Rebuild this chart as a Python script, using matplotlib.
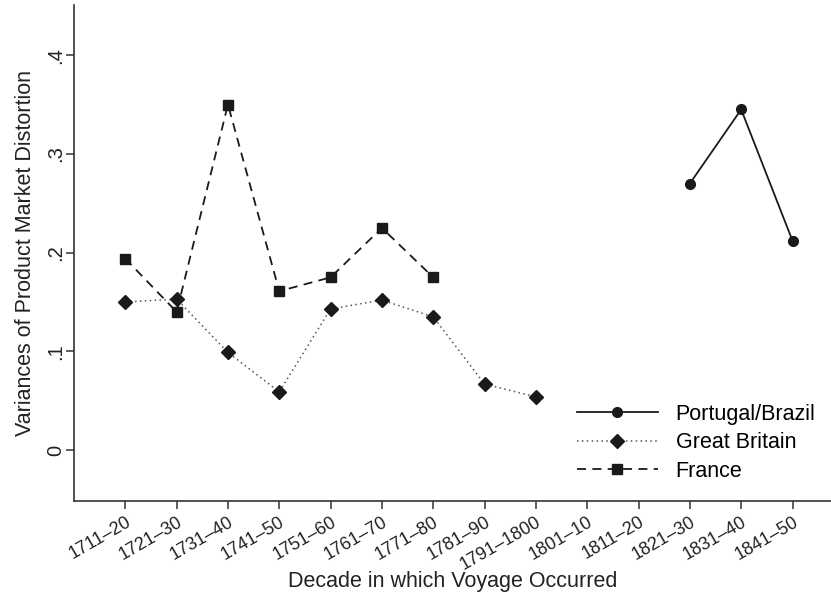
import matplotlib
matplotlib.use("Agg")
import matplotlib.pyplot as plt
import numpy as np

plt.rcParams['font.family'] = ['Liberation Sans', 'DejaVu Sans']

# decades on the x axis
decades = ['1711–20', '1721–30', '1731–40', '1741–50', '1751–60', '1761–70',
           '1771–80', '1781–90', '1791–1800', '1801–10', '1811–20',
           '1821–30', '1831–40', '1841–50']

# series values (NaN where no data)
portugal = [np.nan] * 11 + [0.270, 0.345, 0.212]
britain = [0.150, 0.153, 0.099, 0.059, 0.143, 0.152, 0.135, 0.067, 0.054] + [np.nan] * 5
france = [0.194, 0.140, 0.350, 0.161, 0.175, 0.225, 0.175] + [np.nan] * 7

y_ticks = [0, 0.1, 0.2, 0.3, 0.4]
y_tick_labels = ['0', '.1', '.2', '.3', '.4']

ink = '#1a1a1a'

fig = plt.figure(figsize=(8.31, 5.96), dpi=100)
ax = fig.add_axes([0.089, 0.159, 0.911, 0.833])

x = np.arange(1, len(decades) + 1)

ax.plot(x, portugal, color=ink, linestyle='-', linewidth=1.3,
        marker='o', markersize=7, label='Portugal/Brazil')
ax.plot(x, britain, color='#555555', linestyle=(0, (1, 2.2)), linewidth=1.1,
        marker='D', markersize=7.5, markerfacecolor=ink, markeredgecolor=ink,
        label='Great Britain')
ax.plot(x, france, color=ink, linestyle=(0, (5, 3.5)), linewidth=1.3,
        marker='s', markersize=7.5, label='France')

ax.set_xlim(0, 14.75)
ax.set_ylim(-0.0517, 0.451)

ax.set_xticks(x)
ax.set_xticklabels(decades, rotation=30, ha='right', rotation_mode='anchor',
                   fontsize=13, color='#222222')
ax.set_yticks(y_ticks)
ax.set_yticklabels(y_tick_labels, rotation=90, va='center', fontsize=14.5,
                   color='#222222')

ax.set_xlabel('Decade in which Voyage Occurred', fontsize=15.5, color='#222222',
              labelpad=-2)
ax.set_ylabel('Variances of Product Market Distortion', fontsize=15.5,
              color='#222222', labelpad=7)

for side in ['top', 'right']:
    ax.spines[side].set_visible(False)
for side in ['left', 'bottom']:
    ax.spines[side].set_color('#333333')
    ax.spines[side].set_linewidth(1.2)
ax.tick_params(axis='both', direction='out', length=6, width=1.1,
               color='#333333', pad=3)
ax.tick_params(axis='y', pad=0.5)

ax.legend(loc='lower right', bbox_to_anchor=(1.005, 0.0), frameon=False,
          fontsize=15.5, handlelength=3.8, numpoints=1, labelspacing=0.35,
          handletextpad=0.8)

fig.savefig('out.png', dpi=100)
